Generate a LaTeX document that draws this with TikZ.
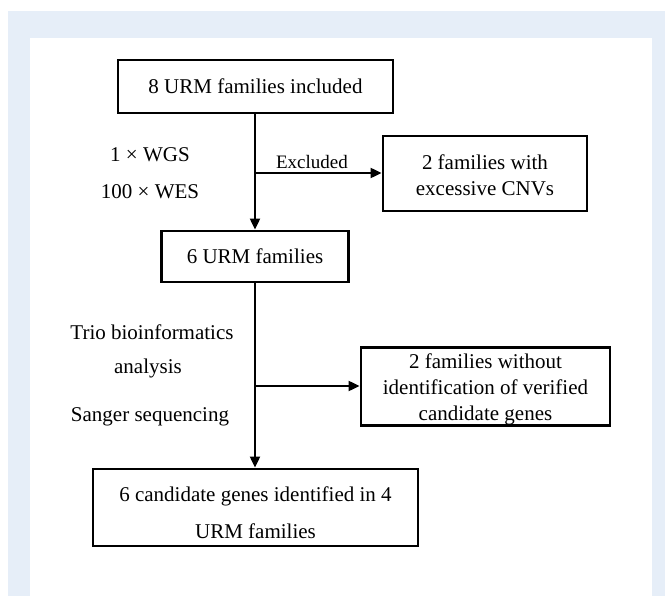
\documentclass[tikz,border=0pt]{standalone}
\usepackage{fontspec}
\setmainfont{Liberation Serif}
\usetikzlibrary{arrows.meta}
\definecolor{panelblue}{HTML}{E6EEF8}
\newcommand{\upstrut}[1]{\rule{0pt}{#1}}
\tikzset{
  flowbox/.style={draw=black, line width=2.8pt, fill=white, inner sep=0pt, align=center,
    font=\fontsize{21}{25.5}\selectfont},
  lbl/.style={inner sep=0pt, align=center, font=\fontsize{21}{25}\selectfont},
  flowarrow/.style={line width=2pt, -{Triangle[length=11pt,width=10pt]}},
}
\begin{document}
\begin{tikzpicture}[x=1pt,y=-1pt]
\fill[white] (0,0) rectangle (665,596);
\useasboundingbox (0,0) rectangle (665,596);
\fill[panelblue] (8,11) rectangle (665,596);
\fill[white] (30,38) rectangle (652,596);

\node[flowbox, minimum width=275pt, minimum height=53pt] (box1) at (255.5,86.5) {8 URM families included};
\node[flowbox, minimum width=204pt, minimum height=75pt] (box3) at (485,173.5) {\upstrut{18pt}2 families with\\excessive CNVs};
\node[flowbox, minimum width=187pt, minimum height=51pt] (box2) at (255,256.5) {6 URM families};
\node[flowbox, minimum width=249pt, minimum height=75pt, font=\fontsize{21}{26}\selectfont] (box4) at (485.5,386.5) {\upstrut{21pt}2 families without\\identification of verified\\candidate genes};
\node[flowbox, minimum width=325pt, minimum height=77pt, font=\fontsize{21}{37}\selectfont] (box5) at (255.5,507.5) {\upstrut{25pt}6 candidate genes identified in 4\\URM families};

\node[lbl] (wgs) at (150,155) {1 × WGS};
\node[lbl] (wes) at (150,192) {100 × WES};
\node[lbl, font=\fontsize{19}{23}\selectfont] (excl) at (312,162) {Excluded};
\node[lbl] (trio) at (152,332) {Trio bioinformatics};
\node[lbl] (anal) at (148,368) {analysis};
\node[lbl] (sang) at (150,417) {Sanger sequencing};

\coordinate (br1) at (255,173);
\coordinate (br2) at (255,386);

\draw[flowarrow] (box1.south -| br1) -- (box2.north -| br1);
\draw[flowarrow] (box2.south -| br2) -- (box5.north -| br2);
\draw[flowarrow] (br1) -- (br1 -| box3.west);
\draw[flowarrow] (br2) -- (br2 -| box4.west);
\end{tikzpicture}
\end{document}
